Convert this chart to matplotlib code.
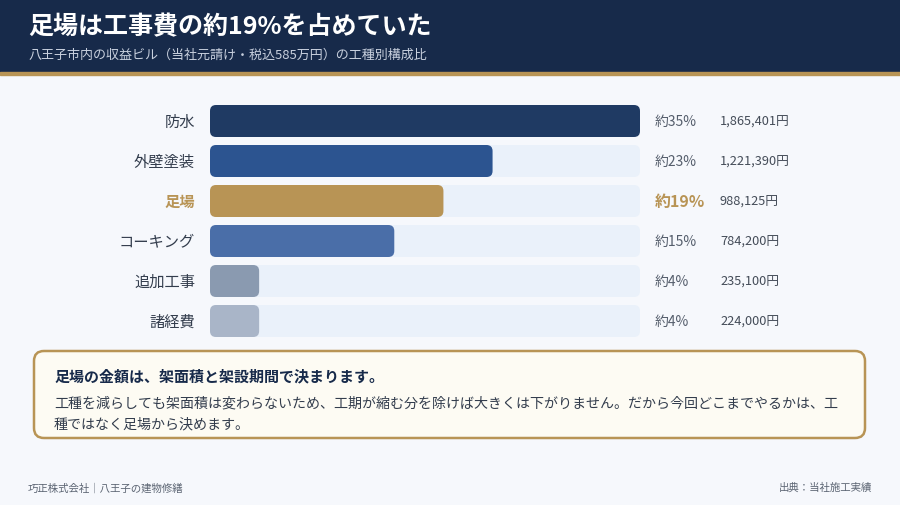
import matplotlib
matplotlib.use("Agg")
import matplotlib.pyplot as plt
from matplotlib.patches import FancyBboxPatch, Rectangle

plt.rcParams["font.family"] = ["Noto Sans CJK JP", "DejaVu Sans"]

categories = ["防水", "外壁塗装", "足場", "コーキング", "追加工事", "諸経費"]
shares = [35, 23, 19, 15, 4, 4]
amounts = ["1,865,401円", "1,221,390円", "988,125円", "784,200円", "235,100円", "224,000円"]
colors = ["#1f3a63", "#2c5490", "#b89455", "#4a6ea8", "#8a9ab0", "#a9b5c8"]
highlight = 2

W, H = 900, 506
fig = plt.figure(figsize=(9, 5.06), dpi=100)
fig.patch.set_facecolor("#f6f8fc")

# overlay axes in pixel coordinates
ov = fig.add_axes([0, 0, 1, 1])
ov.set_xlim(0, W)
ov.set_ylim(H, 0)
ov.axis("off")

ov.add_patch(Rectangle((0, 0), W, 73, color="#172a4a", zorder=1))
ov.add_patch(Rectangle((0, 73), W, 3, color="#b89455", zorder=1))
ov.text(28, 27, "足場は工事費の約19%を占めていた", color="white", fontsize=18,
        fontweight="bold", va="center")
ov.text(28, 55, "八王子市内の収益ビル（当社元請け・税込585万円）の工種別構成比",
        color="#c8d0de", fontsize=9.4, va="center")

# bar axes: x 210..640 px, y 102..342 px
bx0, bx1, by0, by1 = 210, 640, 102, 342
ax = fig.add_axes([bx0 / W, 1 - by1 / H, (bx1 - bx0) / W, (by1 - by0) / H])
n = len(categories)
ax.set_xlim(0, max(shares))
ax.set_ylim(0, n)
ax.axis("off")
ax.patch.set_alpha(0)

px_x = (bx1 - bx0) / max(shares)
px_y = (by1 - by0) / n
aspect = px_x / px_y
bh = 32 / px_y
r = 6 / px_x
for i, (cat, v, amt, c) in enumerate(zip(categories, shares, amounts, colors)):
    yc = n - i - 0.5
    for w, fc in ((max(shares), "#eaf1fa"), (v, c)):
        ax.add_patch(FancyBboxPatch((0, yc - bh / 2), w, bh,
                                    boxstyle=f"round,pad=0,rounding_size={r}",
                                    mutation_aspect=aspect, fc=fc, ec="none"))
    hl = i == highlight
    ax.text(-15 / px_x, yc, cat, ha="right", va="center", fontsize=11,
            color="#b89455" if hl else "#333d4d", fontweight="bold" if hl else "normal")
    ax.text(max(shares) + 15 / px_x, yc, f"約{v}%", ha="left", va="center",
            fontsize=11.5 if hl else 10, color="#b89455" if hl else "#555e6c",
            fontweight="bold" if hl else "normal")
    ax.text(max(shares) + 80 / px_x, yc, amt, ha="left", va="center",
            fontsize=9.2, color="#444c58")

# callout
ov.add_patch(FancyBboxPatch((34, 352), 831, 87, boxstyle="round,pad=0,rounding_size=10",
                            fc="#fdfbf3", ec="#b89455", lw=1.8))
ov.text(54, 376, "足場の金額は、架面積と架設期間で決まります。", fontsize=10.8,
        fontweight="bold", color="#172a4a", va="center")
ov.text(54, 403, "工種を減らしても架面積は変わらないため、工期が縮む分を除けば大きくは下がりません。だから今回どこまでやるかは、工",
        fontsize=10.1, color="#333d4d", va="center")
ov.text(54, 424, "種ではなく足場から決めます。", fontsize=10.1, color="#333d4d", va="center")

ov.text(28, 488, "巧正株式会社｜八王子の建物修繕", fontsize=7.5, color="#5b6472", va="center")
ov.text(872, 488, "出典：当社施工実績", fontsize=7.5, color="#5b6472", va="center", ha="right")

fig.savefig("out.png", dpi=100, facecolor=fig.get_facecolor())
